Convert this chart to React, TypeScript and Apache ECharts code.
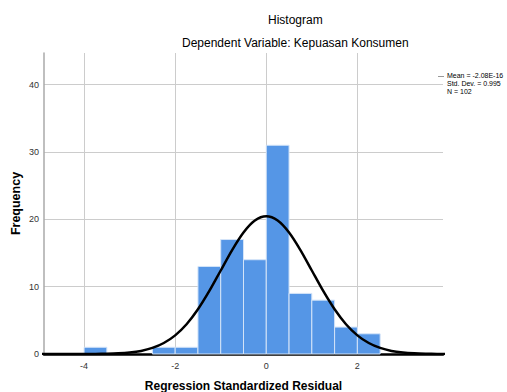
import React, { useEffect, useRef } from "react";
import * as echarts from "echarts";

const binStarts = [-4, -2.5, -2, -1.5, -1, -0.5, 0, 0.5, 1, 1.5, 2];
const binWidth = 0.5;
const counts = [1, 1, 1, 13, 17, 14, 31, 9, 8, 4, 3];

const curveX = [-5, -4.75, -4.5, -4.25, -4, -3.75, -3.5, -3.25, -3, -2.75, -2.5, -2.25, -2, -1.75, -1.5, -1.25, -1, -0.75, -0.5, -0.25, 0, 0.25, 0.5, 0.75, 1, 1.25, 1.5, 1.75, 2, 2.25, 2.5, 2.75, 3, 3.25, 3.5, 3.75, 4];
const curveY = [0, 0, 0.001, 0.002, 0.007, 0.018, 0.045, 0.104, 0.227, 0.46, 0.9, 1.63, 2.77, 4.42, 6.64, 9.36, 12.4, 15.44, 18.05, 19.82, 20.45, 19.82, 18.05, 15.44, 12.4, 9.36, 6.64, 4.42, 2.77, 1.63, 0.9, 0.46, 0.227, 0.104, 0.045, 0.018, 0.007];

const xTicks = [-4, -2, 0, 2];
const statLines = ["Mean = -2.08E-16", "Std. Dev. = 0.995", "N = 102"];
const titleText = "Histogram";
const subtitleText = "Dependent Variable: Kepuasan Konsumen";
const xName = "Regression Standardized Residual";
const yName = "Frequency";

const FONT = "'Liberation Sans', Arial, sans-serif";

export default function App() {
  const ref = useRef<HTMLDivElement>(null);
  useEffect(() => {
    if (!ref.current) return;
    const chart = echarts.init(ref.current, undefined, { renderer: "svg" });
    const barData = binStarts.map((s, i) => [s, s + binWidth, counts[i]]);
    const lineData = curveX.map((x, i) => [x, curveY[i]]);
    chart.setOption({
      animation: false,
      backgroundColor: "#ffffff",
      textStyle: { fontFamily: FONT },
      grid: { left: 44, top: 53, right: 64, bottom: 38, containLabel: false, outerBoundsMode: "none" },
      xAxis: {
        type: "value",
        min: -4.88,
        max: 3.88,
        splitNumber: 4,
        name: xName,
        nameLocation: "middle",
        nameGap: 26,
        nameMoveOverlap: false,
        nameTextStyle: { fontFamily: FONT, fontSize: 12, fontWeight: "bold", color: "#000" },
        axisLine: { show: true, onZero: false, lineStyle: { color: "#000", width: 2.5 } },
        axisTick: { show: false },
        axisLabel: {
          fontFamily: FONT,
          fontSize: 9,
          color: "#333",
          margin: 7,
          showMinLabel: false,
          showMaxLabel: false,
          formatter: (v: number) => (xTicks.includes(Math.round(v * 100) / 100) ? String(v) : ""),
        },
        splitLine: { show: true, showMinLine: false, showMaxLine: false, lineStyle: { color: "#cccccc", width: 1 } },
      },
      yAxis: {
        type: "value",
        min: 0,
        max: 44.7,
        interval: 10,
        name: yName,
        nameLocation: "middle",
        nameGap: 22,
        nameMoveOverlap: false,
        nameRotate: 90,
        nameTextStyle: { fontFamily: FONT, fontSize: 12.5, fontWeight: "bold", color: "#000" },
        axisLine: { show: true, onZero: false, lineStyle: { color: "#aaaaaa", width: 1.5 } },
        axisTick: { show: false },
        axisLabel: { fontFamily: FONT, fontSize: 9, color: "#333", margin: 5, showMaxLabel: false },
        splitLine: { show: true, showMinLine: false, showMaxLine: false, lineStyle: { color: "#cccccc", width: 1 } },
      },
      graphic: [
        { type: "text", left: 268, top: 14, style: { text: titleText, font: `12px ${FONT}`, fill: "#000" } },
        { type: "text", left: 182, top: 37, style: { text: subtitleText, font: `12px ${FONT}`, fill: "#000" } },
        { type: "line", shape: { x1: 438, y1: 76.5, x2: 444, y2: 76.5 }, style: { stroke: "#999", lineWidth: 1 } },
        ...statLines.map((t, i) => ({
          type: "text",
          left: 447,
          top: 71.5 + i * 8,
          style: { text: t, font: `7px ${FONT}`, fill: "#000" },
        })),
      ],
      series: [
        {
          type: "custom",
          data: barData,
          encode: { x: [0, 1], y: 2 },
          renderItem: (params: any, api: any) => {
            const p0 = api.coord([api.value(0), api.value(2)]);
            const p1 = api.coord([api.value(1), 0]);
            return {
              type: "rect",
              shape: { x: p0[0], y: p0[1], width: p1[0] - p0[0], height: p1[1] - p0[1] },
              style: { fill: "#5596e6", stroke: "#d4e4f8", lineWidth: 1 },
            };
          },
          z: 2,
        },
        {
          type: "line",
          data: lineData,
          smooth: 0.3,
          showSymbol: false,
          symbol: "none",
          lineStyle: { color: "#000", width: 2.5 },
          z: 3,
        },
      ],
    });
    return () => chart.dispose();
  }, []);
  return <div ref={ref} style={{ position: "fixed", left: 0, top: 0, width: 507, height: 392 }} />;
}
